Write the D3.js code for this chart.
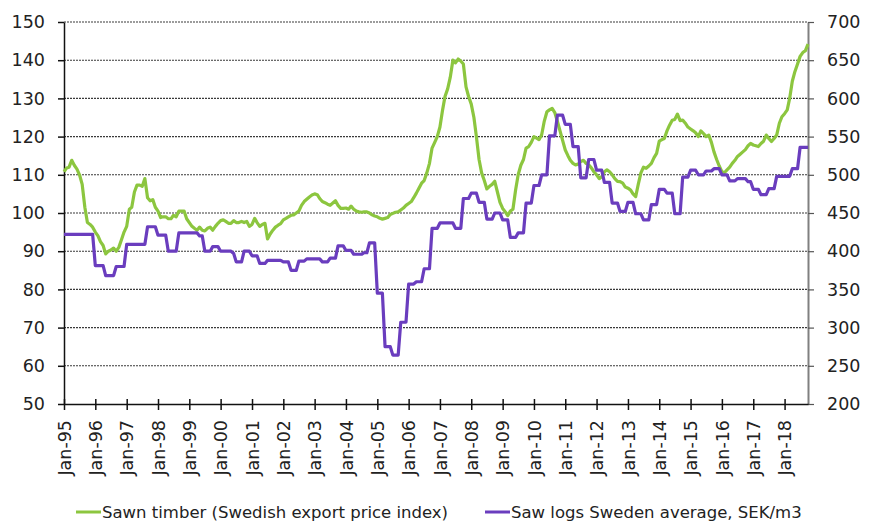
<!DOCTYPE html>
<html>
<head>
<meta charset="utf-8">
<script src="https://cdn.jsdelivr.net/npm/d3@7"></script>
<style>
  body { margin: 0; background: #fff; }
  text { font-family: "DejaVu Sans", sans-serif; fill: #222; }
</style>
</head>
<body>
<script>
// monthly series, Jan-95 .. Oct-18
const firstMonth = new Date(1995, 0, 1)
const lastMonth = new Date(2018, 9, 1)

// Sawn timber, Swedish export price index (left axis)
const sawnTimber = [
  110.8, 111.8, 112.0, 113.8, 112.5, 111.5, 110.0, 107.5, 101.5, 97.5, 97.0, 96.3,   // 1995
  95.0, 94.0, 92.5, 91.5, 89.3, 90.0, 90.3, 90.8, 90.0, 91.0, 93.0, 95.0,            // 1996
  96.5, 101.0, 101.5, 105.5, 107.3, 107.3, 107.0, 109.0, 104.0, 103.2, 103.5, 101.5, // 1997
  100.5, 98.8, 99.0, 99.0, 98.5, 98.5, 99.4, 99.0, 100.5, 100.5, 100.5, 98.5,        // 1998
  97.5, 96.5, 96.0, 95.5, 96.3, 95.5, 95.3, 96.0, 96.3, 95.5, 96.5, 97.3,            // 1999
  98.0, 98.2, 97.8, 97.3, 97.3, 98.0, 97.5, 97.5, 97.8, 97.5, 97.8, 96.5,            // 2000
  97.0, 98.6, 97.5, 96.5, 97.0, 97.3, 93.2, 94.5, 95.5, 96.3, 96.8, 97.2,            // 2001
  98.2, 98.6, 99.0, 99.4, 99.5, 100.0, 100.5, 102.0, 103.0, 103.6, 104.2, 104.7,     // 2002
  105.0, 104.8, 103.8, 103.0, 102.7, 102.3, 102.0, 102.6, 103.2, 102.0, 101.2, 101.2, // 2003
  101.3, 101.0, 101.8, 101.0, 100.5, 100.3, 100.2, 100.3, 100.3, 100.0, 99.5, 99.2,  // 2004
  99.0, 98.6, 98.4, 98.6, 98.8, 99.6, 99.9, 100.2, 100.3, 100.8, 101.3, 102.0,       // 2005
  102.5, 103.0, 104.0, 105.2, 106.5, 107.8, 108.5, 110.5, 113.0, 117.0, 118.5, 120.0, // 2006
  122.5, 127.0, 130.5, 132.5, 135.5, 140.0, 139.3, 140.3, 139.8, 139.0, 133.0, 130.5, // 2007
  128.5, 125.0, 120.0, 114.0, 110.5, 108.5, 106.3, 107.0, 107.5, 108.3, 105.5, 102.8, // 2008
  101.2, 100.3, 99.3, 100.5, 101.0, 106.0, 110.0, 112.5, 114.0, 117.0, 117.4, 118.5, // 2009
  120.0, 119.6, 119.2, 120.5, 124.0, 126.5, 127.0, 127.4, 126.3, 124.0, 121.5, 119.0, // 2010
  116.5, 115.0, 113.8, 113.0, 112.6, 112.8, 113.5, 113.8, 113.0, 112.6, 111.8, 110.8, // 2011
  110.0, 109.0, 109.5, 110.8, 111.3, 110.8, 110.0, 109.0, 108.3, 108.2, 107.8, 106.8, // 2012
  106.5, 106.0, 105.0, 104.3, 107.5, 110.5, 112.0, 111.7, 112.3, 113.0, 114.5, 115.6, // 2013
  118.8, 119.2, 119.5, 121.5, 123.0, 124.3, 124.5, 125.9, 124.2, 124.3, 123.5, 122.5, // 2014
  122.0, 121.5, 121.0, 120.0, 121.5, 120.8, 120.0, 120.4, 118.5, 116.0, 114.0, 112.3, // 2015
  110.8, 110.6, 111.3, 112.0, 113.0, 113.8, 114.8, 115.4, 116.0, 116.6, 117.6, 118.2, // 2016
  117.8, 117.6, 117.4, 118.2, 118.8, 120.4, 119.5, 118.7, 119.5, 120.4, 123.5, 125.2, // 2017
  126.0, 127.0, 130.0, 134.5, 137.0, 139.0, 141.0, 142.0, 142.5, 144.2                // 2018
]

// Saw logs Sweden average, SEK/m3 (right axis)
const sawLogs = [
  422, 422, 422, 422, 422, 422, 422, 422, 422, 422, 422, 422,   // 1995
  381, 381, 381, 381, 368, 368, 368, 368, 380, 380, 380, 380,   // 1996
  409, 409, 409, 409, 409, 409, 409, 409, 432, 432, 432, 432,   // 1997
  421, 421, 421, 421, 400, 400, 400, 400, 424, 424, 424, 424,   // 1998
  424, 424, 424, 424, 420, 420, 400, 400, 400, 406, 406, 406,   // 1999
  400, 400, 400, 400, 400, 397, 386, 386, 386, 400, 400, 400,   // 2000
  394, 394, 394, 384, 384, 384, 388, 388, 388, 388, 388, 388,   // 2001
  386, 386, 386, 375, 375, 375, 387, 387, 387, 390, 390, 390,   // 2002
  390, 390, 390, 386, 386, 386, 391, 391, 391, 407, 407, 407,   // 2003
  401, 401, 401, 396, 396, 396, 396, 398, 398, 411, 411, 411,   // 2004
  345, 345, 345, 275, 275, 275, 264, 264, 264, 307, 307, 307,   // 2005
  357, 357, 357, 360, 360, 360, 377, 377, 377, 430, 430, 430,   // 2006
  437, 437, 437, 437, 437, 437, 430, 430, 430, 469, 469, 469,   // 2007
  476, 476, 476, 464, 464, 464, 442, 442, 442, 450, 450, 450,   // 2008
  441, 441, 441, 418, 418, 418, 424, 424, 424, 463, 463, 463,   // 2009
  486, 486, 486, 500, 500, 500, 551, 551, 551, 578, 578, 578,   // 2010
  566, 566, 566, 537, 537, 537, 496, 496, 496, 520, 520, 520,   // 2011
  506, 506, 506, 490, 490, 490, 463, 463, 463, 452, 452, 452,   // 2012
  464, 464, 464, 449, 449, 449, 441, 441, 441, 461, 461, 461,   // 2013
  481, 481, 481, 476, 476, 476, 449, 449, 449, 497, 497, 497,   // 2014
  506, 506, 506, 500, 500, 500, 505, 505, 505, 508, 508, 508,   // 2015
  500, 500, 500, 492, 492, 492, 495, 495, 495, 495, 491, 491,   // 2016
  481, 481, 481, 474, 474, 474, 482, 482, 482, 498, 498, 498,   // 2017
  498, 498, 498, 508, 508, 508, 536, 536, 536, 536              // 2018
]

const leftTicks = [50, 60, 70, 80, 90, 100, 110, 120, 130, 140, 150]
const rightTicks = [200, 250, 300, 350, 400, 450, 500, 550, 600, 650, 700]
const legendLabels = ['Sawn timber (Swedish export price index)', 'Saw logs Sweden average, SEK/m3']
const colors = ['#8cc63f', '#6a3dbe']

const w = 876
const h = 523
const plotLeft = 64, plotRight = 808, plotTop = 22, plotBottom = 404

const months = d3.timeMonth.range(firstMonth, d3.timeMonth.offset(lastMonth, 1))

const svg = d3.select('body')
  .append('svg')
  .attr('width', w)
  .attr('height', h)

const xScale = d3.scaleTime()
  .domain([firstMonth, lastMonth])
  .range([plotLeft, plotRight])
const yLeft = d3.scaleLinear().domain([50, 150]).range([plotBottom, plotTop])
const yRight = d3.scaleLinear().domain([200, 700]).range([plotBottom, plotTop])

// gridlines
svg.append('g')
  .selectAll('line')
  .data(leftTicks.slice(1))
  .enter()
  .append('line')
  .attr('x1', plotLeft)
  .attr('x2', plotRight)
  .attr('y1', d => yLeft(d))
  .attr('y2', d => yLeft(d))
  .attr('stroke', '#3a3a3a')
  .attr('stroke-width', 1.1)
  .attr('stroke-dasharray', '2,1')

// left axis
const leftAxis = svg.append('g')
  .attr('transform', 'translate(' + plotLeft + ',0)')
  .call(d3.axisLeft(yLeft).tickValues(leftTicks).tickSize(6).tickSizeOuter(0).tickPadding(13))
leftAxis.select('.domain').attr('stroke', '#111').attr('stroke-width', 1.5)
leftAxis.selectAll('.tick line').attr('stroke', '#111').attr('stroke-width', 1.5)
leftAxis.selectAll('text').style('font-size', '17.5px').attr('fill', '#222')

// right axis
const rightAxis = svg.append('g')
  .attr('transform', 'translate(' + plotRight + ',0)')
  .call(d3.axisRight(yRight).tickValues(rightTicks).tickSize(6).tickSizeOuter(0).tickPadding(13))
rightAxis.select('.domain').attr('stroke', '#808080').attr('stroke-width', 2)
rightAxis.selectAll('.tick line').attr('stroke', '#555').attr('stroke-width', 1.2)
rightAxis.selectAll('text').style('font-size', '17.5px').attr('fill', '#222')

// bottom axis
const xAxis = svg.append('g')
  .attr('transform', 'translate(0,' + plotBottom + ')')
  .call(d3.axisBottom(xScale)
    .ticks(d3.timeYear.every(1))
    .tickFormat(d3.timeFormat('Jan-%y'))
    .tickSize(6)
    .tickSizeOuter(0))
xAxis.select('.domain').attr('stroke', '#111').attr('stroke-width', 1.5)
xAxis.selectAll('.tick line').attr('y1', -5).attr('y2', 6).attr('stroke', '#111').attr('stroke-width', 1.5)
xAxis.selectAll('text')
  .style('font-size', '17.5px')
  .attr('text-anchor', 'end')
  .attr('transform', 'rotate(-90)')
  .attr('x', -16)
  .attr('y', 0)
  .attr('dy', '0.35em')

// series
const lineLeft = d3.line()
  .x((d, i) => xScale(months[i]))
  .y(d => yLeft(d))
const lineRight = d3.line()
  .x((d, i) => xScale(months[i]))
  .y(d => yRight(d))

svg.append('path')
  .datum(sawnTimber)
  .attr('d', lineLeft)
  .attr('fill', 'none')
  .attr('stroke', colors[0])
  .attr('stroke-width', 3.2)
  .attr('stroke-linejoin', 'round')

svg.append('path')
  .datum(sawLogs)
  .attr('d', lineRight)
  .attr('fill', 'none')
  .attr('stroke', colors[1])
  .attr('stroke-width', 3.2)
  .attr('stroke-linejoin', 'round')

// legend
const legendX = [76, 485]
const legend = svg.append('g')
  .selectAll('g')
  .data(legendLabels)
  .enter()
  .append('g')
  .attr('transform', (d, i) => 'translate(' + legendX[i] + ',512)')
legend.append('line')
  .attr('x1', 0)
  .attr('x2', 25)
  .attr('stroke', (d, i) => colors[i])
  .attr('stroke-width', 3)
legend.append('text')
  .attr('x', 26)
  .attr('dy', '0.35em')
  .style('font-size', '16.5px')
  .text(d => d)
</script>
</body>
</html>
